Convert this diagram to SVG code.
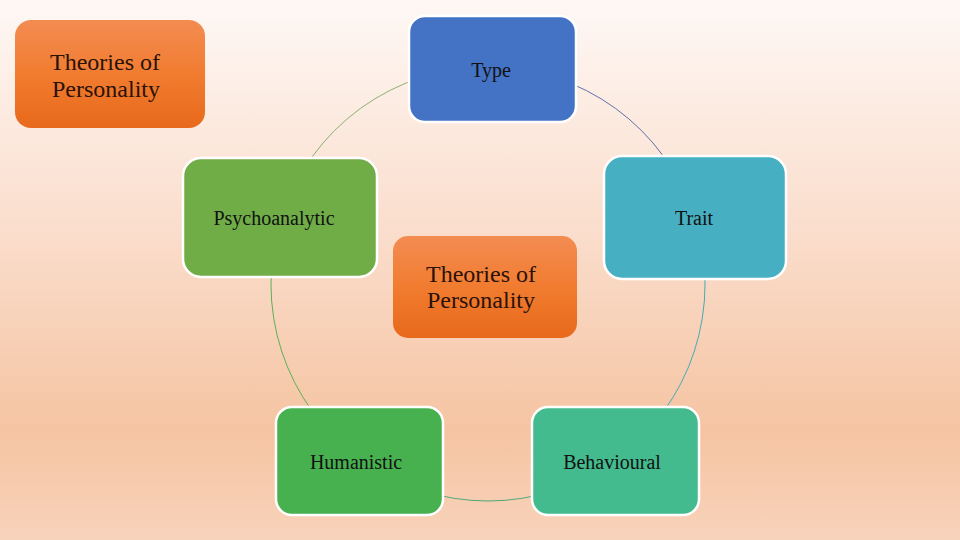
<svg xmlns="http://www.w3.org/2000/svg" width="960" height="540" viewBox="0 0 960 540">
<defs>
<linearGradient id="bg" x1="0" y1="0" x2="0" y2="1">
<stop offset="0" stop-color="#FEF8F5"/>
<stop offset="0.45" stop-color="#FADCCA"/>
<stop offset="0.8" stop-color="#F5C4A2"/>
<stop offset="1" stop-color="#F8D3BB"/>
</linearGradient>
<linearGradient id="og" x1="0" y1="0" x2="0" y2="1">
<stop offset="0" stop-color="#F38C52"/>
<stop offset="0.5" stop-color="#F17C30"/>
<stop offset="1" stop-color="#E8691B"/>
</linearGradient>
<style>
.box{stroke:#FFFFFF;stroke-width:2.5}
.t{font-family:"Liberation Serif","Times New Roman",serif;font-size:20px;fill:#111111;text-anchor:middle}
.big{font-family:"Liberation Serif","Times New Roman",serif;font-size:24px;fill:#2a1208}
.arc{fill:none;stroke-width:1}
</style>
</defs>
<rect x="0" y="0" width="960" height="540" fill="url(#bg)"/>
<g id="connectors">
<path class="arc" stroke="#6070A8" d="M488,67 A217,217 0 0 1 694.4,216.9"/>
<path class="arc" stroke="#4AA8B8" d="M694.4,216.9 A217,217 0 0 1 615.5,459.6"/>
<path class="arc" stroke="#50A878" d="M615.5,459.6 A217,217 0 0 1 360.5,459.6"/>
<path class="arc" stroke="#5CB058" d="M360.5,459.6 A217,217 0 0 1 281.6,216.9"/>
<path class="arc" stroke="#8AB070" d="M281.6,216.9 A217,217 0 0 1 488,67"/>
</g>
<g id="title">
<rect x="15" y="20" width="190" height="108" rx="16" fill="url(#og)"/>
<text class="big" x="50" y="70">Theories of</text>
<text class="big" x="52" y="97">Personality</text>
</g>
<g id="type">
<rect class="box" x="409" y="16" width="167" height="106" rx="16" fill="#4472C4"/>
<text class="t" x="491" y="77">Type</text>
</g>
<g id="trait">
<rect class="box" x="604" y="156" width="182" height="123" rx="18" fill="#46AFC1"/>
<text class="t" x="694" y="225">Trait</text>
</g>
<g id="psychoanalytic">
<rect class="box" x="183" y="158" width="194" height="119" rx="18" fill="#70AD47"/>
<text class="t" x="274" y="225">Psychoanalytic</text>
</g>
<g id="center">
<rect x="393" y="236" width="184" height="102" rx="15" fill="url(#og)"/>
<text class="big" x="426" y="282">Theories of</text>
<text class="big" x="427" y="308">Personality</text>
</g>
<g id="humanistic">
<rect class="box" x="276" y="407" width="167" height="108" rx="16" fill="#47B150"/>
<text class="t" x="356" y="469">Humanistic</text>
</g>
<g id="behavioural">
<rect class="box" x="532" y="407" width="167" height="108" rx="16" fill="#43BB8E"/>
<text class="t" x="612" y="469">Behavioural</text>
</g>
</svg>
